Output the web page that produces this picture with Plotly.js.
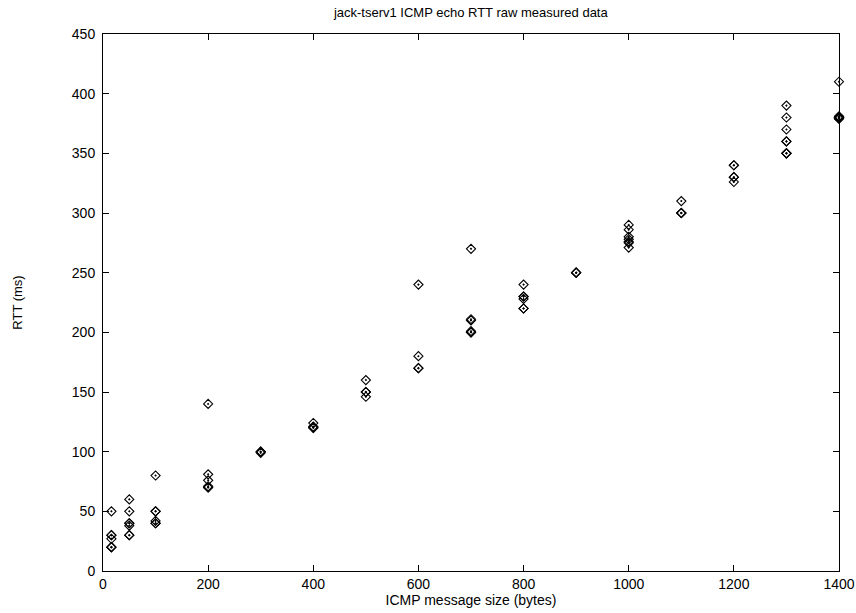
<!DOCTYPE html>
<html>
<head>
<meta charset="utf-8">
<script src="https://cdn.plot.ly/plotly-3.0.1.min.js"></script>
<style>html,body{margin:0;padding:0;background:#fff;}</style>
</head>
<body>
<div id="chart" style="width:856px;height:613px;"></div>
<script>
// Message sizes (bytes) and measured RTT samples (ms) for each size
const sizes = [16, 50, 100, 200, 300, 400, 500, 600, 700, 800, 900, 1000, 1100, 1200, 1300, 1400];
const rtt16   = [50, 30, 30, 27, 20, 20, 20];
const rtt50   = [60, 50, 40, 40, 38, 30, 30];
const rtt100  = [80, 50, 50, 42, 40, 40];
const rtt200  = [140, 81, 76, 71, 70, 70];
const rtt300  = [100, 100, 99];
const rtt400  = [124, 121, 120, 120];
const rtt500  = [160, 150, 150, 146];
const rtt600  = [240, 180, 170, 170];
const rtt700  = [270, 211, 210, 201, 200, 200];
const rtt800  = [240, 230, 230, 228, 220, 220];
const rtt900  = [250, 250, 250];
const rtt1000 = [290, 286, 280, 278, 276, 275, 271];
const rtt1100 = [310, 300, 300, 300];
const rtt1200 = [340, 340, 330, 330, 326];
const rtt1300 = [390, 380, 370, 360, 360, 350, 350, 350];
const rtt1400 = [410, 381, 380, 380, 380, 380, 379, 379];
const rttSets = [rtt16, rtt50, rtt100, rtt200, rtt300, rtt400, rtt500, rtt600, rtt700, rtt800, rtt900, rtt1000, rtt1100, rtt1200, rtt1300, rtt1400];
const xTicks = [0, 200, 400, 600, 800, 1000, 1200, 1400];
const yTicks = [0, 50, 100, 150, 200, 250, 300, 350, 400, 450];

const xs = [], ys = [];
sizes.forEach((s, i) => rttSets[i].forEach(v => { xs.push(s); ys.push(v); }));

const font = "Liberation Sans, Arial, sans-serif";
const trace = {
  x: xs, y: ys, type: 'scatter', mode: 'markers',
  marker: {symbol: 'diamond-open-dot', size: 7, color: '#000', line: {color: '#000', width: 1.1}},
  showlegend: false, hoverinfo: 'skip', cliponaxis: false
};
const axisCommon = {
  showline: true, linecolor: '#000', linewidth: 1, mirror: 'ticks',
  ticks: 'inside', ticklen: 6, tickcolor: '#000', tickwidth: 1,
  showgrid: false, zeroline: false,
  tickfont: {family: font, size: 14, color: '#000'}
};
const layout = {
  width: 856, height: 613,
  margin: {l: 103, r: 17, t: 34, b: 42},
  paper_bgcolor: '#fff', plot_bgcolor: '#fff',
  title: {text: 'jack-tserv1 ICMP echo RTT raw measured data', font: {family: font, size: 13, color: '#000'},
          x: 0.55, xanchor: 'center', y: 0.98, yanchor: 'middle'},
  xaxis: Object.assign({}, axisCommon, {
    range: [0, 1400], tickvals: xTicks, ticktext: xTicks.map(String),
    title: {text: 'ICMP message size (bytes)', font: {family: font, size: 14, color: '#000'}, standoff: 3}
  }),
  yaxis: Object.assign({}, axisCommon, {
    range: [0, 450], tickvals: yTicks, ticktext: yTicks.map(String),
    ticklabelstandoff: 4,
    title: {text: 'RTT (ms)', font: {family: font, size: 13, color: '#000'}, standoff: 46}
  })
};
Plotly.newPlot('chart', [trace], layout, {displayModeBar: false, staticPlot: true});
</script>
</body>
</html>
